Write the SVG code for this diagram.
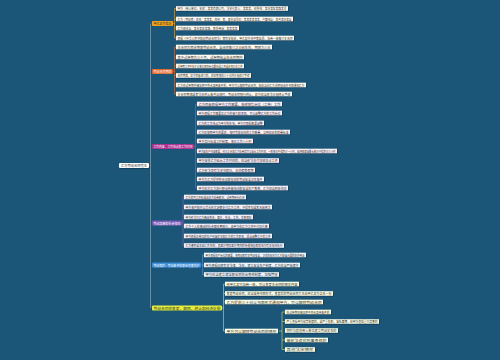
<svg xmlns="http://www.w3.org/2000/svg" width="500" height="360" viewBox="0 0 500 360">
<style>
.bg{fill:#1b5678}
.sh{fill:#0c3249;opacity:.7}
.t{font-family:"Noto Sans CJK SC","Noto Sans",sans-serif;font-size:3.4px;fill:#333;dominant-baseline:central}
.w{fill:#fff}
.c{fill:none;stroke-width:.6}
.k0{stroke:#9db4bf}
.k1{stroke:#e2a53a}
.k2{stroke:#d8733e}
.k3{stroke:#b55a9e}
.k4{stroke:#8a6cbf}
.k5{stroke:#5b9ed8}
.k6{stroke:#d8dd6a}
.f1{fill:#fffaf0}
.f3{fill:#fcf0f8}
.f4{fill:#f4f0fb}
.f5{fill:#eef6fd}
.f6{fill:#fcfde6}
</style>
<rect class="bg" x="0" y="0" width="500" height="360"/>
<g id="connectors">
<path class="c k0" d="M149,165.5H150.5M150.5,23.5V308"/>
<path class="c k1" d="M173,23.5H174.5M174.5,8.5V38M174.5,8.5H176M174.5,19H176M174.5,28H176M174.5,38H176"/>
<path class="c k2" d="M173,71.5H174.5M174.5,47V94M174.5,47H176M174.5,57H176M174.5,66H176M174.5,75.5H176M174.5,85H176M174.5,94H176"/>
<path class="c k3" d="M194,146.5H195.5M195.5,104V188M195.5,104H197M195.5,113H197M195.5,123H197M195.5,132H197M195.5,141H197M195.5,151H197M195.5,160.5H197M195.5,170H197M195.5,179H197M195.5,188H197"/>
<path class="c k4" d="M182,223H183M183,197V245.5M183,197H184M183,207H184M183,217H184M183,226H184M183,236H184M183,245.5H184"/>
<path class="c k5" d="M201,265H202.5M202.5,255V274.5M202.5,255H204M202.5,265H204M202.5,274.5H204"/>
<path class="c k6" d="M222,308H223.5M223.5,284V331M223.5,284H225M223.5,293.5H225M223.5,302H225M223.5,331H225"/>
<path class="c k6" d="M278,331H282M282,312V349.5M282,312H285M282,321.5H285M282,340H285M282,349.5H285"/>
</g>
<g id="center"><rect class="sh" x="119.7" y="163.7" width="30" height="5" rx="1"/><rect class="w" x="119" y="163" width="30" height="5" rx="1"/><text class="t" x="121" y="165.5" textLength="26" lengthAdjust="spacingAndGlyphs">乙方劳动合同范本</text></g>
<g id="b1"><rect x="152" y="21" width="21" height="5" rx="1" fill="#f2a31d"/><text class="t" x="153.5" y="23.5" textLength="18" lengthAdjust="spacingAndGlyphs">甲乙双方信息</text></g>
<g id="b2"><rect x="152" y="69" width="21" height="5" rx="1" fill="#e5672b"/><text class="t" x="153.5" y="71.5" textLength="18" lengthAdjust="spacingAndGlyphs" style="fill:#fff">劳动合同期限</text></g>
<g id="b3"><rect x="152" y="144" width="42" height="5" rx="1" fill="#ad2f8e"/><text class="t" x="153.5" y="146.5" textLength="39" lengthAdjust="spacingAndGlyphs" style="fill:#fff">工作内容、工作地点和工作时间</text></g>
<g id="b4"><rect x="152" y="220.5" width="30" height="5" rx="1" fill="#7b56b8"/><text class="t" x="153.5" y="223" textLength="27" lengthAdjust="spacingAndGlyphs" style="fill:#fff">劳动报酬和社会保险</text></g>
<g id="b5"><rect x="152" y="262.5" width="49" height="5" rx="1" fill="#3d8fdc"/><text class="t" x="153.5" y="265" textLength="46" lengthAdjust="spacingAndGlyphs" style="fill:#fff">劳动保护、劳动条件和职业危害防护</text></g>
<g id="b6"><rect x="152" y="305.5" width="70" height="5" rx="1" fill="#e7ef3b"/><text class="t" x="153.5" y="308" textLength="67" lengthAdjust="spacingAndGlyphs">劳动合同的变更、解除、终止和经济补偿</text></g>

<g id="n1-1"><rect class="sh" x="176.7" y="6.9" width="112" height="4.6"/><rect class="f1" x="176" y="6.2" width="112" height="4.6"/><text class="t" x="177.5" y="8.5" textLength="109" lengthAdjust="spacingAndGlyphs">甲方（用人单位）名称：某某有限公司，法定代表人：某某某，住所地：某市某区某路某号</text></g>
<g id="n1-2"><rect class="sh" x="176.7" y="17.4" width="117" height="4.6"/><rect class="f1" x="176" y="16.7" width="117" height="4.6"/><text class="t" x="177.5" y="19" textLength="114" lengthAdjust="spacingAndGlyphs">乙方（劳动者）姓名：某某某，性别：男，身份证号码：某某某某某某，户籍地址：某省某市某县</text></g>
<g id="n1-3"><rect class="sh" x="176.7" y="26.4" width="63" height="4.6"/><rect class="f1" x="176" y="25.7" width="63" height="4.6"/><text class="t" x="177.5" y="28" textLength="60" lengthAdjust="spacingAndGlyphs">乙方现住址：某市某区某路，联系电话：某某某某</text></g>
<g id="n1-4"><rect class="sh" x="176.7" y="36.4" width="118" height="4.6"/><rect class="f1" x="176" y="35.7" width="118" height="4.6"/><text class="t" x="177.5" y="38" textLength="115" lengthAdjust="spacingAndGlyphs">根据《中华人民共和国劳动合同法》等有关规定，甲乙双方经平等自愿、协商一致签订本合同</text></g>

<g id="n2-1"><rect class="sh" x="176.7" y="45.4" width="96" height="4.6"/><rect class="f1" x="176" y="44.7" width="96" height="4.6"/><text class="t" x="177.5" y="47" textLength="93" lengthAdjust="spacingAndGlyphs">本合同为固定期限劳动合同，自合同签订之日起生效，期限为三年</text></g>
<g id="n2-2"><rect class="sh" x="176.7" y="55.4" width="68" height="4.6"/><rect class="f1" x="176" y="54.7" width="68" height="4.6"/><text class="t" x="177.5" y="57" textLength="65" lengthAdjust="spacingAndGlyphs">其中试用期为三个月，试用期包含在合同期内</text></g>
<g id="n2-3"><rect class="sh" x="176.7" y="64.4" width="68" height="4.6"/><rect class="f1" x="176" y="63.7" width="68" height="4.6"/><text class="t" x="177.5" y="66" textLength="65" lengthAdjust="spacingAndGlyphs">试用期工资不低于本单位相同岗位最低档工资或合同约定工资</text></g>
<g id="n2-4"><rect class="sh" x="176.7" y="73.9" width="75" height="4.6"/><rect class="f1" x="176" y="73.2" width="75" height="4.6"/><text class="t" x="177.5" y="75.5" textLength="72" lengthAdjust="spacingAndGlyphs">合同期满，双方同意续订的，应在期满前三十日内办理续订手续</text></g>
<g id="n2-5"><rect class="sh" x="176.7" y="83.4" width="130" height="4.6"/><rect class="f1" x="176" y="82.7" width="130" height="4.6"/><text class="t" x="177.5" y="85" textLength="127" lengthAdjust="spacingAndGlyphs">乙方在试用期内被证明不符合录用条件的，甲方可以解除劳动合同，但应当向乙方说明理由并书面通知乙方</text></g>
<g id="n2-6"><rect class="sh" x="176.7" y="92.4" width="116" height="4.6"/><rect class="f1" x="176" y="91.7" width="116" height="4.6"/><text class="t" x="177.5" y="94" textLength="113" lengthAdjust="spacingAndGlyphs">本合同期满或者法定终止条件出现时，劳动合同即行终止，双方应当依法办理终止手续</text></g>

<g id="n3-1"><rect class="sh" x="197.7" y="102.4" width="85" height="4.6"/><rect class="f3" x="197" y="101.7" width="85" height="4.6"/><text class="t" x="198.5" y="104" textLength="82" lengthAdjust="spacingAndGlyphs">乙方同意根据甲方工作需要，担任销售岗位（工种）工作</text></g>
<g id="n3-2"><rect class="sh" x="197.7" y="111.4" width="85" height="4.6"/><rect class="f3" x="197" y="110.7" width="85" height="4.6"/><text class="t" x="198.5" y="113" textLength="82" lengthAdjust="spacingAndGlyphs">甲方根据工作需要及乙方的能力和表现，可以调整乙方的工作岗位</text></g>
<g id="n3-3"><rect class="sh" x="197.7" y="121.4" width="67" height="4.6"/><rect class="f3" x="197" y="120.7" width="67" height="4.6"/><text class="t" x="198.5" y="123" textLength="64" lengthAdjust="spacingAndGlyphs">乙方的工作地点为甲方所在地，甲方可根据需要调整</text></g>
<g id="n3-4"><rect class="sh" x="197.7" y="130.4" width="93" height="4.6"/><rect class="f3" x="197" y="129.7" width="93" height="4.6"/><text class="t" x="198.5" y="132" textLength="90" lengthAdjust="spacingAndGlyphs">乙方应按照甲方的要求，按时完成规定的工作数量，达到规定的质量标准</text></g>
<g id="n3-5"><rect class="sh" x="197.7" y="139.4" width="56" height="4.6"/><rect class="f3" x="197" y="138.7" width="56" height="4.6"/><text class="t" x="198.5" y="141" textLength="53" lengthAdjust="spacingAndGlyphs">甲方实行标准工时制度，每日工作八小时</text></g>
<g id="n3-6"><rect class="sh" x="197.7" y="149.4" width="140" height="4.6"/><rect class="f3" x="197" y="148.7" width="140" height="4.6"/><text class="t" x="198.5" y="151" textLength="137" lengthAdjust="spacingAndGlyphs">甲方因生产经营需要，经与工会和乙方协商后可以延长工作时间，一般每日不得超过一小时，因特殊原因最长每日不得超过三小时</text></g>
<g id="n3-7"><rect class="sh" x="197.7" y="158.9" width="82" height="4.6"/><rect class="f3" x="197" y="158.2" width="82" height="4.6"/><text class="t" x="198.5" y="160.5" textLength="79" lengthAdjust="spacingAndGlyphs">甲方安排乙方延长工作时间的，应当依法支付加班加点工资</text></g>
<g id="n3-8"><rect class="sh" x="197.7" y="168.4" width="58" height="4.6"/><rect class="f3" x="197" y="167.7" width="58" height="4.6"/><text class="t" x="198.5" y="170" textLength="55" lengthAdjust="spacingAndGlyphs">乙方依法享有法定节假日、年休假等假期</text></g>
<g id="n3-9"><rect class="sh" x="197.7" y="177.4" width="67" height="4.6"/><rect class="f3" x="197" y="176.7" width="67" height="4.6"/><text class="t" x="198.5" y="179" textLength="64" lengthAdjust="spacingAndGlyphs">甲方为乙方提供符合国家规定的劳动安全卫生条件</text></g>
<g id="n3-10"><rect class="sh" x="197.7" y="186.4" width="91" height="4.6"/><rect class="f3" x="197" y="185.7" width="91" height="4.6"/><text class="t" x="198.5" y="188" textLength="88" lengthAdjust="spacingAndGlyphs">甲方应对乙方进行职业技能培训和安全生产教育，乙方应当积极参加</text></g>

<g id="n4-1"><rect class="sh" x="184.7" y="195.4" width="62" height="4.6"/><rect class="f4" x="184" y="194.7" width="62" height="4.6"/><text class="t" x="185.5" y="197" textLength="59" lengthAdjust="spacingAndGlyphs">乙方的月工资标准由双方协商确定，试用期另行约定</text></g>
<g id="n4-2"><rect class="sh" x="184.7" y="205.4" width="88" height="4.6"/><rect class="f4" x="184" y="204.7" width="88" height="4.6"/><text class="t" x="185.5" y="207" textLength="85" lengthAdjust="spacingAndGlyphs">甲方每月按时以货币形式足额支付乙方工资，不得克扣或者无故拖欠</text></g>
<g id="n4-3"><rect class="sh" x="184.7" y="215.4" width="69" height="4.6"/><rect class="f4" x="184" y="214.7" width="69" height="4.6"/><text class="t" x="185.5" y="217" textLength="66" lengthAdjust="spacingAndGlyphs">甲方依法为乙方缴纳养老、医疗、失业、工伤、生育保险</text></g>
<g id="n4-4"><rect class="sh" x="184.7" y="224.4" width="85" height="4.6"/><rect class="f4" x="184" y="223.7" width="85" height="4.6"/><text class="t" x="185.5" y="226" textLength="82" lengthAdjust="spacingAndGlyphs">乙方个人应缴纳的社会保险费部分，由甲方在乙方工资中代扣代缴</text></g>
<g id="n4-5"><rect class="sh" x="184.7" y="234.4" width="88" height="4.6"/><rect class="f4" x="184" y="233.7" width="88" height="4.6"/><text class="t" x="185.5" y="236" textLength="85" lengthAdjust="spacingAndGlyphs">甲方根据本单位的生产经营状况和乙方的工作表现，适当调整乙方的工资</text></g>
<g id="n4-6"><rect class="sh" x="184.7" y="243.9" width="100" height="4.6"/><rect class="f4" x="184" y="243.2" width="100" height="4.6"/><text class="t" x="185.5" y="245.5" textLength="97" lengthAdjust="spacingAndGlyphs">乙方患病或非因工负伤的，其医疗期及医疗期内的待遇按国家和地方有关规定执行</text></g>

<g id="n5-1"><rect class="sh" x="204.7" y="253.4" width="102" height="4.6"/><rect class="f5" x="204" y="252.7" width="102" height="4.6"/><text class="t" x="205.5" y="255" textLength="99" lengthAdjust="spacingAndGlyphs">甲方根据生产岗位的需要，按照国家有关劳动安全、卫生的规定为乙方配备必要的防护用品</text></g>
<g id="n5-2"><rect class="sh" x="204.7" y="263.4" width="96" height="4.6"/><rect class="f5" x="204" y="262.7" width="96" height="4.6"/><text class="t" x="205.5" y="265" textLength="93" lengthAdjust="spacingAndGlyphs">甲方根据国家有关法律、法规，建立安全生产制度，乙方应当严格遵守</text></g>
<g id="n5-3"><rect class="sh" x="204.7" y="272.9" width="75" height="4.6"/><rect class="f5" x="204" y="272.2" width="75" height="4.6"/><text class="t" x="205.5" y="274.5" textLength="72" lengthAdjust="spacingAndGlyphs">甲方应当建立健全职业病防治责任制度，加强管理</text></g>

<g id="n6-1"><rect class="sh" x="225.7" y="282.4" width="74" height="4.6"/><rect class="f6" x="225" y="281.7" width="74" height="4.6"/><text class="t" x="226.5" y="284" textLength="71" lengthAdjust="spacingAndGlyphs">经甲乙双方协商一致，可以变更本合同的相关内容</text></g>
<g id="n6-2"><rect class="sh" x="225.7" y="291.9" width="108" height="4.6"/><rect class="f6" x="225" y="291.2" width="108" height="4.6"/><text class="t" x="226.5" y="293.5" textLength="105" lengthAdjust="spacingAndGlyphs">变更劳动合同，应当采用书面形式，变更后的劳动合同文本由甲乙双方各执一份</text></g>
<g id="n6-3"><rect class="sh" x="225.7" y="300.4" width="98" height="4.6"/><rect class="f6" x="225" y="299.7" width="98" height="4.6"/><text class="t" x="226.5" y="302" textLength="95" lengthAdjust="spacingAndGlyphs">乙方提前三十日以书面形式通知甲方，可以解除劳动合同</text></g>
<g id="n6-4"><rect class="sh" x="225.7" y="329.4" width="53" height="4.6"/><rect class="f6" x="225" y="328.7" width="53" height="4.6"/><text class="t" x="226.5" y="331" textLength="50" lengthAdjust="spacingAndGlyphs">甲方可以解除劳动合同的情形</text></g>

<g id="n7-1"><rect class="sh" x="285.7" y="310.4" width="46" height="4.6"/><rect class="f6" x="285" y="309.7" width="46" height="4.6"/><text class="t" x="286.5" y="312" textLength="43" lengthAdjust="spacingAndGlyphs">在试用期间被证明不符合录用条件的</text></g>
<g id="n7-2"><rect class="sh" x="285.7" y="319.9" width="94" height="4.6"/><rect class="f6" x="285" y="319.2" width="94" height="4.6"/><text class="t" x="286.5" y="321.5" textLength="91" lengthAdjust="spacingAndGlyphs">严重违反甲方规章制度的，或严重失职，营私舞弊，给甲方造成重大损害的</text></g>
<g id="n7-3"><rect class="sh" x="285.7" y="328.9" width="53" height="4.6"/><rect class="f6" x="285" y="328.2" width="53" height="4.6"/><text class="t" x="286.5" y="330.5" textLength="50" lengthAdjust="spacingAndGlyphs">同时与其他用人单位建立劳动关系的</text></g>
<g id="n7-4"><rect class="sh" x="285.7" y="338.4" width="43" height="4.6"/><rect class="f6" x="285" y="337.7" width="43" height="4.6"/><text class="t" x="286.5" y="340" textLength="40" lengthAdjust="spacingAndGlyphs">被依法追究刑事责任的</text></g>
<g id="n7-5"><rect class="sh" x="285.7" y="347.9" width="30" height="4.6"/><rect class="f6" x="285" y="347.2" width="30" height="4.6"/><text class="t" x="286.5" y="349.5" textLength="27" lengthAdjust="spacingAndGlyphs">其他法定情形</text></g>
</svg>
